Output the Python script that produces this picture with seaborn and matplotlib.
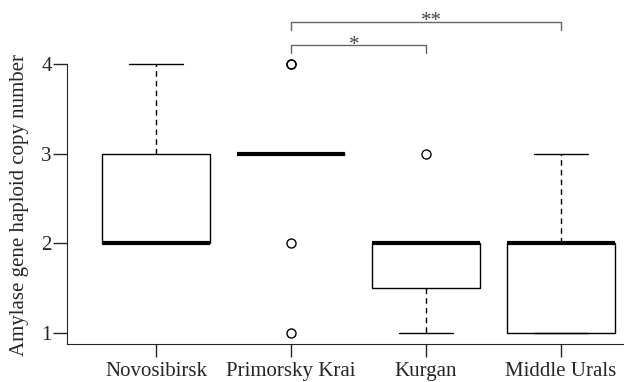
import pandas as pd
import matplotlib
matplotlib.use("Agg")
import matplotlib.pyplot as plt
import seaborn as sns

# Copy number per individual
regions = ["Novosibirsk", "Primorsky Krai", "Kurgan", "Middle Urals"]
novosibirsk = [2, 2, 2, 2, 2, 3, 3, 4]
primorsky = [1, 2, 3, 3, 3, 3, 3, 3, 3, 3, 4, 4]
kurgan = [1, 1, 2, 2, 2, 2, 3]
middle_urals = [1, 1, 1, 2, 2, 2, 2, 2, 3]

# significance brackets: (from group, to group, label, bracket height, label x)
brackets = [(1, 3, "**", 4.47, 2.044), (1, 2, "*", 4.21, 1.467)]

df = pd.concat([
    pd.DataFrame({"region": r, "copies": v})
    for r, v in zip(regions, [novosibirsk, primorsky, kurgan, middle_urals])
])

sns.set_style("ticks")
plt.rcParams["font.family"] = ["Liberation Serif", "DejaVu Serif"]

fig = plt.figure(figsize=(6.24, 3.82), dpi=100)
ax = fig.add_axes([0.1074, 0.0995, 0.8926, 0.874])

sns.boxplot(data=df, x="region", y="copies", order=regions, ax=ax,
            width=0.8, whis=1.5, color="white", linecolor="black",
            linewidth=1.0,
            boxprops=dict(facecolor="white", edgecolor="black"),
            medianprops=dict(color="black", linewidth=3),
            whiskerprops=dict(linestyle=(0, (4, 3))),
            flierprops=dict(marker="o", markersize=6.5, markerfacecolor="none",
                            markeredgecolor="black", markeredgewidth=1.0))

ax.set_xlim(-0.659, 3.467)
ax.set_ylim(0.88, 4.6)
ax.set_yticks([1, 2, 3, 4])
ax.spines["left"].set_bounds(0.88, 4)
ax.spines["top"].set_visible(False)
ax.spines["right"].set_visible(False)
ax.tick_params(axis="y", length=10, width=1, pad=1, labelsize=15)
ax.tick_params(axis="x", length=9, width=1, pad=4, labelsize=15)
ax.set_xlabel("")
ax.set_ylabel("Amylase gene haploid copy number", fontsize=15)
ax.yaxis.set_label_coords(-0.068, 0.415)

for a, b, label, y, lx in brackets:
    drop = 0.09
    ax.plot([a, a, b, b], [y - drop, y, y, y - drop], color="#666666",
            linewidth=1.0, clip_on=False)
    ax.text(lx, y - 0.05, label, ha="center", va="baseline",
            fontsize=15, color="#444444")

fig.savefig("out.png", dpi=100)
